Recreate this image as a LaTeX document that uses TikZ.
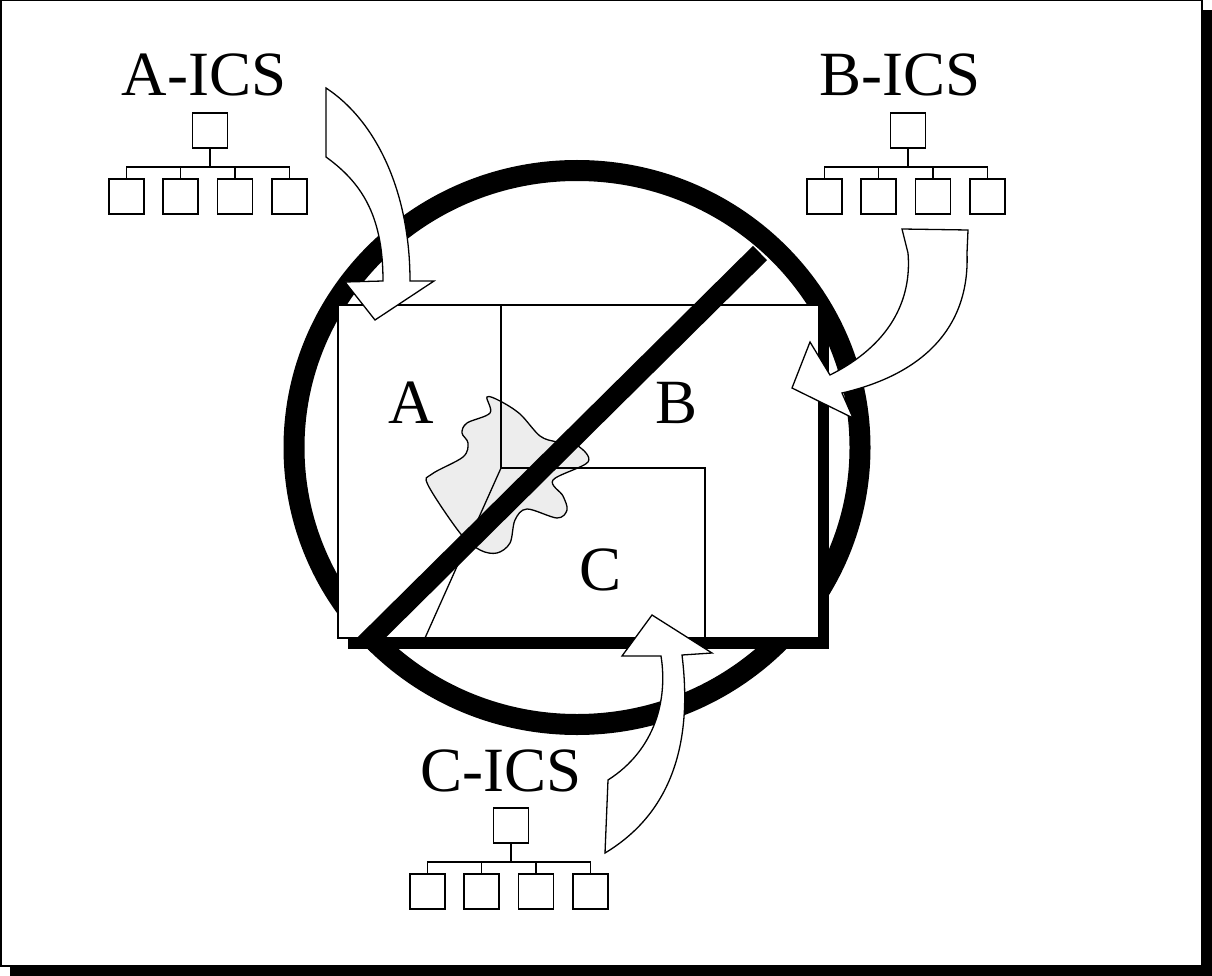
\documentclass[tikz,border=0pt]{standalone}
\usepackage{fontspec}
\setmainfont{Liberation Serif}
\tikzset{
  thinline/.style={line width=1.3pt, draw=black},
  orgbox/.style={draw=black, line width=1.8pt, fill=white, minimum size=35pt, inner sep=0pt},
  orgline/.style={line width=1.6pt, draw=black},
  bigtext/.style={font=\fontsize{63}{70}\selectfont, inner sep=0pt, anchor=base},
  blockarrow/.style={fill=white, draw=black, line width=1.3pt, line join=miter},
}
% small hierarchy: one box over four boxes joined by a bus line
\newcommand\orgchart[3]{%
  \node[orgbox] (#1top) at (#2,#3) {};
  \node[orgbox] (#1b1) at (#2-83.5,#3+66) {};
  \node[orgbox] (#1b2) at (#2-29.5,#3+66) {};
  \node[orgbox] (#1b3) at (#2+25,#3+66) {};
  \node[orgbox] (#1b4) at (#2+79.5,#3+66) {};
  \coordinate (#1bus) at (#2,#3+36.5);
  \draw[orgline] (#1top) -- (#1bus);
  \draw[orgline] (#1bus) -| (#1b1);
  \draw[orgline] (#1bus) -| (#1b2);
  \draw[orgline] (#1bus) -| (#1b3);
  \draw[orgline] (#1bus) -| (#1b4);
}
\begin{document}
\begin{tikzpicture}[x=1pt, y=-1pt]
\useasboundingbox (0,0) rectangle (1212,976);
% page frame with drop shadow
\fill[black] (10,10) rectangle (1212,976);
\draw[fill=white, line width=1.5pt] (0.75,0.75) rectangle (1202,966);

% outer ring
\draw[line width=21pt] (577,447.5) ellipse [x radius=283, y radius=277];

% region map with shadow
\fill[black] (348,315) rectangle (829,649);
\draw[thinline, fill=white] (338,305) rectangle (819,638);

% incident area
\draw[thinline, fill=black!7] plot[smooth cycle, tension=0.55] coordinates {
  (487,397) (500,401) (520,414) (540,436) (557,442) (578,446) (588,462)
  (553,480) (563,496) (567,510) (557,518) (527,509) (515,520) (510,543)
  (497,553) (480,550) (460,533) (428,485) (432,474) (463,457) (468,443)
  (462,433) (467,423) (490,413)};

% region borders
\coordinate (jn) at (501,468);
\draw[thinline] (501,305) -- (jn);
\draw[thinline] (jn) -- (705,468) -- (705,638);
\draw[thinline] (jn) -- (425,638);

\node[bigtext] (lblA) at (411,423) {A};
\node[bigtext] (lblB) at (677,423) {B};
\node[bigtext] (lblC) at (601,590) {C};

% prohibition bar
\draw[line width=20pt] (364,645) -- (760,253);

% curved block arrows
\draw[blockarrow] (326,88) .. controls (375,120) and (410,190) .. (410,281)
  -- (434,281) -- (375,320) -- (345,282) -- (383,281)
  .. controls (383,220) and (365,185) .. (326,157) -- cycle;
\draw[blockarrow] (902,229) -- (968,230) -- (967,253)
  .. controls (970,330) and (920,375) .. (842,393)
  -- (853,418) -- (792,388) -- (810,342) -- (830,375)
  .. controls (890,345) and (912,300) .. (908,253) -- cycle;
\draw[blockarrow] (652,615) -- (712,653) -- (682,655)
  .. controls (695,760) and (660,820) .. (605,853)
  -- (608,780) .. controls (655,750) and (668,700) .. (661,656)
  -- (622,656) -- cycle;

% command structures
\node[bigtext] (icsA) at (204,96) {A-ICS};
\node[bigtext] (icsB) at (900,96) {B-ICS};
\node[bigtext] (icsC) at (501,791) {C-ICS};
\orgchart{a}{210}{130.5}
\orgchart{b}{908}{130.5}
\orgchart{c}{511}{825.5}
\end{tikzpicture}
\end{document}
